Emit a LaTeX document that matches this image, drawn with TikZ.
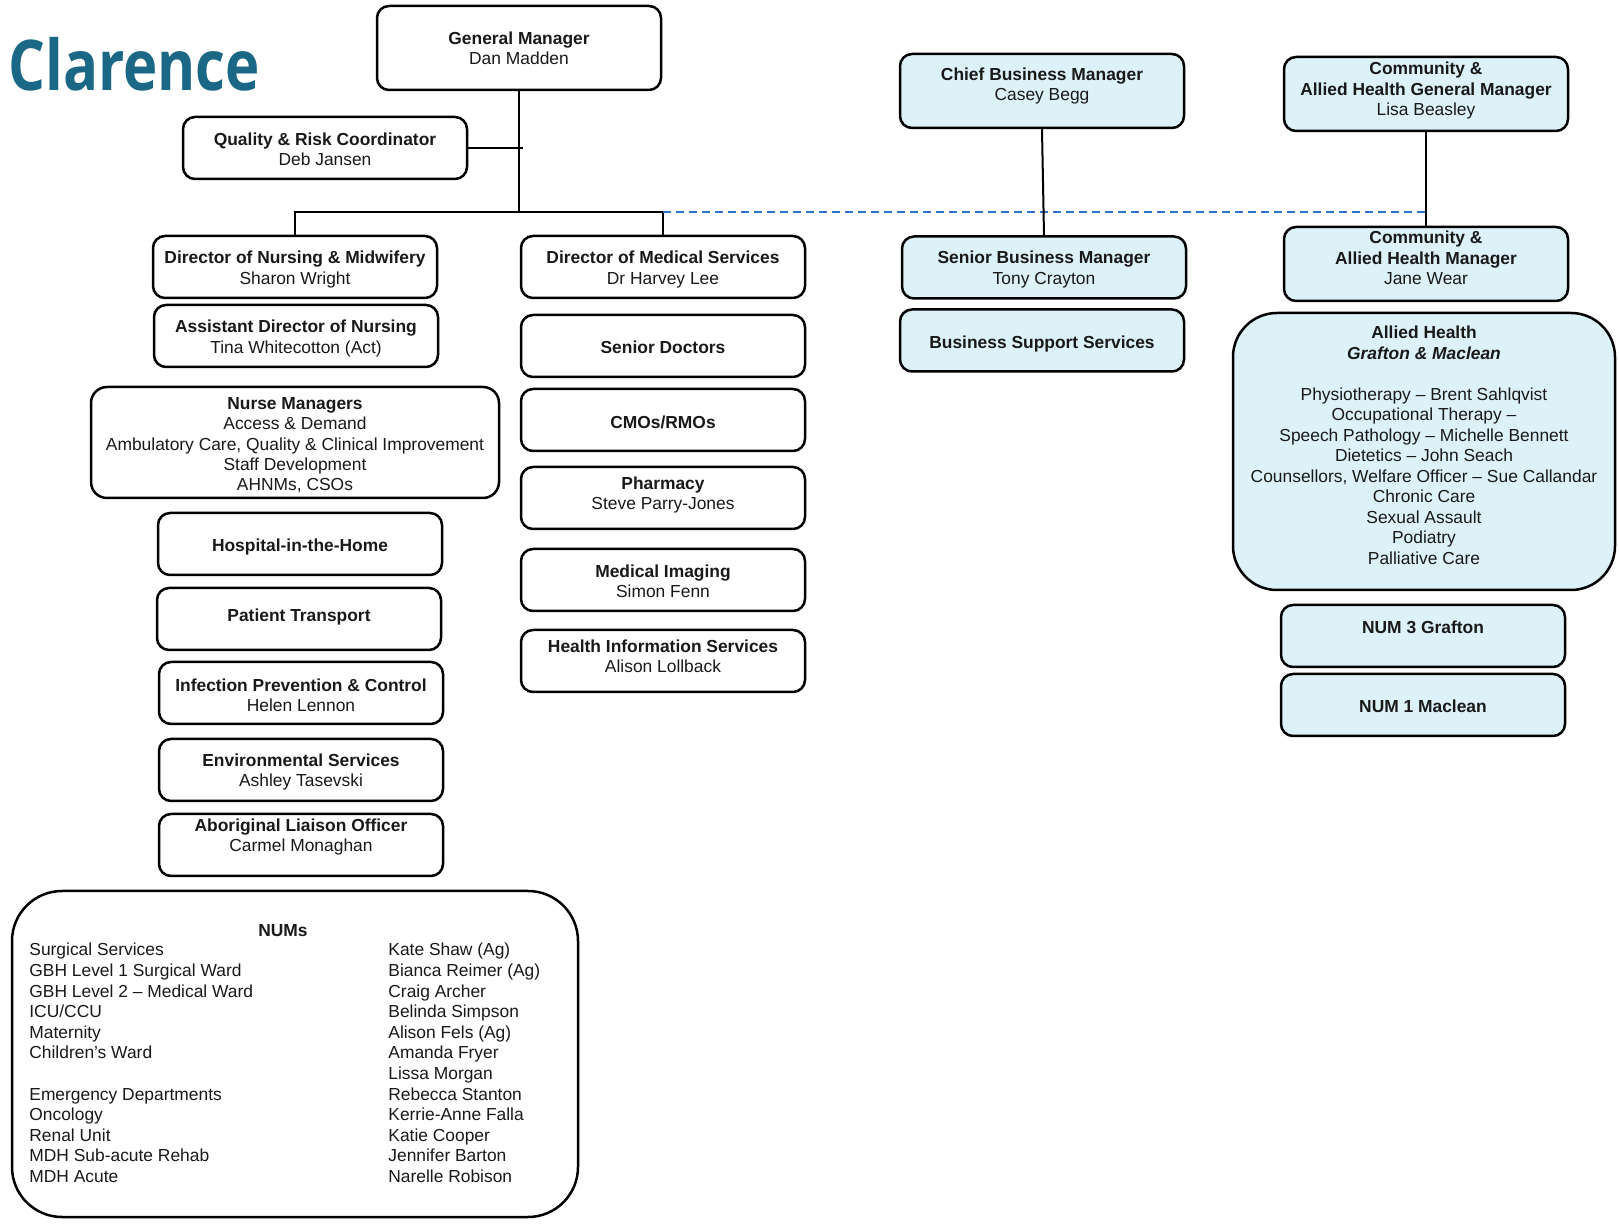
\documentclass[tikz,border=0pt]{standalone}
\usepackage{fontspec}
\setmainfont{Liberation Sans}
\newfontfamily\titlefont{Open Sans}[FakeStretch=0.83]
\definecolor{cyanfill}{RGB}{221,242,248}
\definecolor{titleteal}{RGB}{26,104,133}
\definecolor{dashblue}{RGB}{46,117,200}
\definecolor{inkgray}{RGB}{25,25,25}
% text block raised by #1 px above the node centre (approximately)
\newcommand\bx[2]{\raisebox{\dimexpr #1pt/2-2pt\relax}[0pt][0pt]{\begin{tabular}{@{}c@{}}#2\end{tabular}}}
\begin{document}
\begin{tikzpicture}[x=0.5pt,y=-0.5pt,
  box/.style={draw, line width=1.25pt, rounded corners=6pt, fill=white,
    minimum width=142pt, minimum height=31pt, inner sep=0pt, text=inkgray,
    font=\fontsize{8.7}{10.2}\selectfont},
  bbox/.style={box, fill=cyanfill},
  conn/.style={line width=1pt},
  dashconn/.style={line width=1pt, draw=dashblue, dash pattern=on 4pt off 2.5pt},
  listtext/.style={inner sep=0pt, text=inkgray, font=\fontsize{8.7}{10.3}\selectfont}]

\useasboundingbox[fill=white] (0,0) rectangle (1619,1224);

% title
\node[anchor=base west, inner sep=0pt, text=titleteal,
  font=\titlefont\bfseries\fontsize{35}{40}\selectfont] (title) at (8,91) {Clarence};

% top level
\node[box, minimum height=42pt] (gm) at (519,48) {\bx{-3}{\textbf{General Manager}\\Dan Madden}};
\node[box] (qrc) at (325,148) {\bx{-3.7}{\textbf{Quality \& Risk Coordinator}\\Deb Jansen}};
\node[bbox, minimum height=37pt] (cbm) at (1042,91) {\bx{3.8}{\textbf{Chief Business Manager}\\Casey Begg}};
\node[bbox, minimum height=37pt] (cahgm) at (1426,94) {\bx{2.3}{\textbf{Community \&}\\\textbf{Allied Health General Manager}\\Lisa Beasley}};

% left column
\node[box] (dnm) at (295,267) {\bx{-3.3}{\textbf{Director of Nursing \& Midwifery}\\Sharon Wright}};
\node[box] (adn) at (296,336) {\bx{-3.4}{\textbf{Assistant Director of Nursing}\\Tina Whitecotton (Act)}};
\node[box, minimum width=204pt, minimum height=55.5pt, rounded corners=8pt] (nm) at (295,442.5)
  {\bx{-4}{\textbf{Nurse Managers}\\Access \& Demand\\Ambulatory Care, Quality \& Clinical Improvement\\Staff Development\\AHNMs, CSOs}};
\node[box] (hith) at (300,544) {\bx{-3.6}{\textbf{Hospital-in-the-Home}}};
\node[box] (pt) at (299,619) {\bx{1.3}{\textbf{Patient Transport}}};
\node[box] (ipc) at (301,693) {\bx{-4.7}{\textbf{Infection Prevention \& Control}\\Helen Lennon}};
\node[box] (es) at (301,770) {\bx{-2.8}{\textbf{Environmental Services}\\Ashley Tasevski}};
\node[box] (alo) at (301,845) {\bx{7.2}{\textbf{Aboriginal Liaison Officer}\\Carmel Monaghan}};

% middle column
\node[box] (dms) at (663,267) {\bx{-3.3}{\textbf{Director of Medical Services}\\Dr Harvey Lee}};
\node[box] (sd) at (663,346) {\bx{-4.4}{\textbf{Senior Doctors}}};
\node[box] (cmo) at (663,420) {\bx{-4.5}{\textbf{CMOs/RMOs}}};
\node[box] (ph) at (663,498) {\bx{2}{\textbf{Pharmacy}\\Steve Parry-Jones}};
\node[box] (mi) at (663,580) {\bx{-4.1}{\textbf{Medical Imaging}\\Simon Fenn}};
\node[box] (his) at (663,661) {\bx{2.3}{\textbf{Health Information Services}\\Alison Lollback}};

% business column
\node[bbox] (sbm) at (1044,267.5) {\bx{-2.8}{\textbf{Senior Business Manager}\\Tony Crayton}};
\node[bbox] (bss) at (1042,340.5) {\bx{-4.9}{\textbf{Business Support Services}}};

% community column
\node[bbox, minimum height=37pt] (cahm) at (1426,264) {\bx{3.2}{\textbf{Community \&}\\\textbf{Allied Health Manager}\\Jane Wear}};
\node[bbox, minimum width=191pt, minimum height=138.5pt, rounded corners=22pt,
  font=\fontsize{8.7}{10.25}\selectfont] (ah) at (1424,451.5)
  {\bx{3.5}{\textbf{Allied Health}\\\textbf{\textit{Grafton \& Maclean}}\\ \\
   Physiotherapy -- Brent Sahlqvist\\Occupational Therapy --\\Speech Pathology -- Michelle Bennett\\
   Dietetics -- John Seach\\Counsellors, Welfare Officer -- Sue Callandar\\Chronic Care\\
   Sexual Assault\\Podiatry\\Palliative Care}};
\node[bbox] (num3) at (1423,636) {\bx{6.3}{\textbf{NUM 3 Grafton}}};
\node[bbox] (num1) at (1423,705) {\bx{-3.7}{\textbf{NUM 1 Maclean}}};

% NUMs box
\node[box, minimum width=283pt, minimum height=163pt, rounded corners=25pt] (nums) at (295,1054) {};
\node[listtext, font=\bfseries\fontsize{8.7}{10.3}\selectfont] (numstitle) at (283,931) {NUMs};
\node[listtext, anchor=base west] (numsleft) at (29,956)
  {\begin{tabular}[t]{@{}l@{}}Surgical Services\\GBH Level 1 Surgical Ward\\GBH Level 2 -- Medical Ward\\
   ICU/CCU\\Maternity\\Children’s Ward\\ \\Emergency Departments\\Oncology\\Renal Unit\\
   MDH Sub-acute Rehab\\MDH Acute\end{tabular}};
\node[listtext, anchor=base west] (numsright) at (388,956)
  {\begin{tabular}[t]{@{}l@{}}Kate Shaw (Ag)\\Bianca Reimer (Ag)\\Craig Archer\\Belinda Simpson\\
   Alison Fels (Ag)\\Amanda Fryer\\Lissa Morgan\\Rebecca Stanton\\Kerrie-Anne Falla\\
   Katie Cooper\\Jennifer Barton\\Narelle Robison\end{tabular}};

% connectors
\coordinate (bus) at (519,212);
\draw[conn] (gm.south) -- (gm.south |- bus);
\draw[conn] (qrc.east) -- ([xshift=2pt]qrc.east -| gm.south);
\draw[conn] (dnm.north) -- (dnm.north |- bus) -- (dms.north |- bus) -- (dms.north);
\draw[dashconn] (dms.north |- bus) -- (cahm.north |- bus);
\draw[conn] (cbm.south) -- (sbm.north);
\draw[conn] (cahgm.south) -- (cahm.north);
\end{tikzpicture}
\end{document}
